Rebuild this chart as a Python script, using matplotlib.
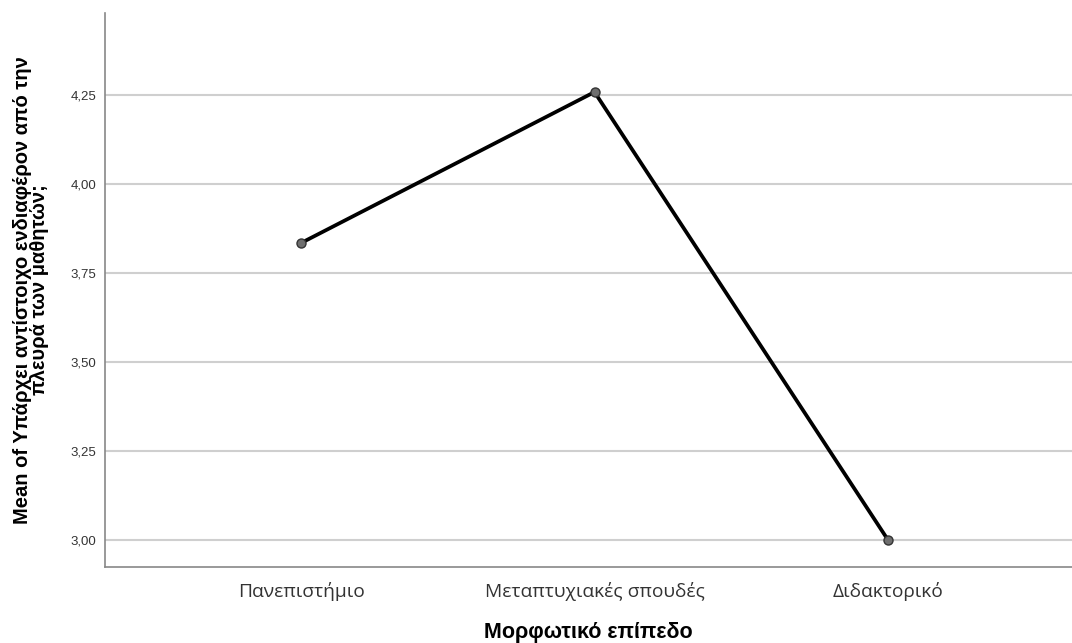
import matplotlib
matplotlib.use("Agg")
import matplotlib.pyplot as plt
from matplotlib.ticker import FuncFormatter

categories = ["Πανεπιστήμιο", "Μεταπτυχιακές σπουδές", "Διδακτορικό"]
means = [3.834, 4.258, 3.00]
yticks = [3.00, 3.25, 3.50, 3.75, 4.00, 4.25]

plt.rcParams['font.family'] = ['Liberation Sans', 'DejaVu Sans']

fig = plt.figure(figsize=(10.72, 6.43), dpi=100)
ax = fig.add_axes([105/1072, (643-567)/643, 1 - 105/1072, (567-13)/643])

x = list(range(len(categories)))
ax.plot(x, means, color='black', lw=2.7, zorder=3, solid_capstyle='round')
ax.plot(x, means, linestyle='none', marker='o', markersize=6.5,
        markerfacecolor='#6e6e6e', markeredgecolor='#333333', markeredgewidth=1.0, zorder=4)

ax.set_xlim(-0.668, 2.627)
ax.set_ylim(2.924, 4.48)
ax.set_yticks(yticks)
ax.yaxis.set_major_formatter(FuncFormatter(lambda v, p: f"{v:.2f}".replace('.', ',')))
ax.set_xticks(x)
ax.set_xticklabels(categories, fontsize=13.8, color='#333333', family=['Open Sans', 'DejaVu Sans'])
ax.tick_params(axis='y', labelsize=9.5, colors='#333333', length=0, pad=6)
ax.tick_params(axis='x', length=0, pad=11)
ax.grid(axis='y', color='#cfcfcf', lw=1.5)
ax.set_axisbelow(True)
for s in ['top', 'right']:
    ax.spines[s].set_visible(False)
for s in ['left', 'bottom']:
    ax.spines[s].set_color('#888888')
    ax.spines[s].set_linewidth(1.2)

ax.set_ylabel("Mean of Υπάρχει αντίστοιχο ενδιαφέρον από την\nπλευρά των μαθητών;",
              fontsize=14.5, fontweight='bold', linespacing=0.85, labelpad=16)
ax.set_xlabel("Μορφωτικό επίπεδο", fontsize=15.5, fontweight='bold', labelpad=15)

fig.savefig("out.png", dpi=100, facecolor='white')
